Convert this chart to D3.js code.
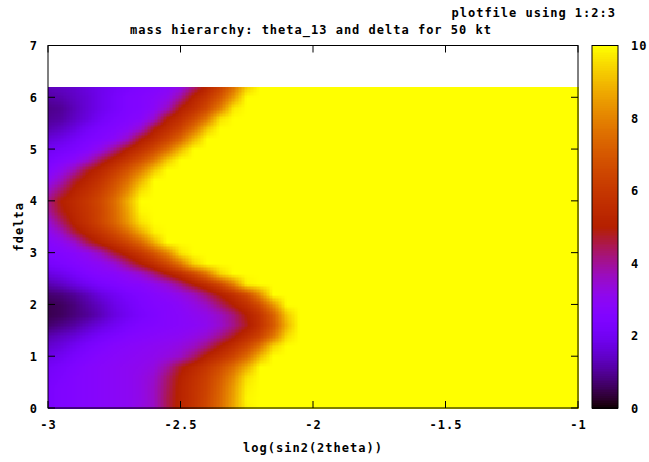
<!DOCTYPE html>
<html><head><meta charset="utf-8">
<script src="https://cdn.jsdelivr.net/npm/d3@7"></script>
<style>
body{margin:0;background:#fff}
text{font-family:"DejaVu Sans Mono",monospace;font-weight:bold;font-size:12px;letter-spacing:1px;fill:#000}
</style>
</head><body>
<svg id="chart" width="649" height="462"></svg>
<script>
// ---- data ----
const xValues = [-3.00,-2.95,-2.90,-2.85,-2.80,-2.75,-2.70,-2.65,-2.60,-2.55,-2.50,-2.45,-2.40,-2.35,-2.30,-2.25,-2.20,-2.15,-2.10,-2.05,-2.00,-1.50,-1.00];
const deltaValues = [0.0,0.2,0.4,0.6,0.8,1.0,1.2,1.4,1.6,1.8,2.0,2.2,2.4,2.6,2.8,3.0,3.2,3.4,3.6,3.8,4.0,4.2,4.4,4.6,4.8,5.0,5.2,5.4,5.6,5.8,6.0,6.2];
const zRows = [
[2.3,2.5,2.6,2.7,2.8,2.9,3.0,3.3,3.6,4.5,5.3,5.9,6.6,7.5,8.7,9.8,10,10,10,10,10,10,10],
[2.3,2.5,2.6,2.7,2.8,2.9,3.0,3.2,3.6,4.5,5.2,5.8,6.5,7.4,8.6,9.9,10,10,10,10,10,10,10],
[2.3,2.5,2.6,2.7,2.8,2.9,3.0,3.2,3.6,4.4,5.2,5.8,6.4,7.3,8.5,9.8,10,10,10,10,10,10,10],
[2.2,2.4,2.6,2.7,2.8,2.9,3.0,3.2,3.5,4.3,5.1,5.7,6.3,7.1,8.2,9.6,10,10,10,10,10,10,10],
[2.1,2.3,2.5,2.7,2.8,2.9,3.0,3.1,3.3,3.9,4.8,5.4,6.0,6.7,7.6,8.8,10,10,10,10,10,10,10],
[1.8,2.0,2.3,2.5,2.7,2.8,2.9,3.0,3.1,3.3,3.6,4.3,5.2,5.8,6.5,7.5,9.0,10,10,10,10,10,10],
[1.5,1.7,2.0,2.3,2.5,2.7,2.8,2.9,3.0,3.1,3.3,3.6,4.2,5.0,5.7,6.5,7.7,9.4,10,10,10,10,10],
[1.2,1.4,1.6,1.9,2.2,2.4,2.6,2.7,2.8,2.9,3.0,3.2,3.5,4.1,4.8,5.6,6.4,7.7,9.5,10,10,10,10],
[0.7,0.9,1.1,1.4,1.7,2.0,2.3,2.5,2.6,2.7,2.8,2.9,3.1,3.5,4.1,4.8,5.8,7.0,8.9,10,10,10,10],
[0.5,0.6,0.8,1.0,1.3,1.7,2.0,2.3,2.5,2.7,2.8,3.0,3.2,3.6,4.2,5.0,5.9,7.2,9.2,10,10,10,10],
[0.5,0.6,0.8,1.1,1.4,1.8,2.1,2.4,2.6,2.7,2.9,3.2,3.6,4.3,5.0,5.7,6.7,8.3,10,10,10,10,10],
[0.7,0.8,1.0,1.3,1.7,2.0,2.3,2.5,2.7,2.9,3.2,3.6,4.3,5.0,5.7,6.6,8.2,10,10,10,10,10,10],
[1.2,1.4,1.7,2.0,2.3,2.5,2.7,2.8,3.1,3.5,4.2,5.0,5.7,6.6,8.0,9.8,10,10,10,10,10,10,10],
[1.7,1.9,2.2,2.5,2.7,2.8,3.1,3.5,4.2,5.0,5.7,6.6,7.8,9.4,10,10,10,10,10,10,10,10,10],
[2.2,2.4,2.6,2.8,3.0,3.4,4.2,5.0,5.7,6.6,7.8,9.4,10,10,10,10,10,10,10,10,10,10,10],
[2.5,2.6,2.8,3.1,3.7,4.6,5.3,6.0,6.9,8.0,9.6,10,10,10,10,10,10,10,10,10,10,10,10],
[2.7,3.0,3.5,4.5,5.2,5.8,6.5,7.4,8.8,10,10,10,10,10,10,10,10,10,10,10,10,10,10],
[3.0,3.6,4.6,5.3,5.9,6.6,7.5,8.7,9.8,10,10,10,10,10,10,10,10,10,10,10,10,10,10],
[3.4,4.3,5.2,5.8,6.5,7.3,8.4,9.6,10,10,10,10,10,10,10,10,10,10,10,10,10,10,10],
[3.9,4.8,5.4,5.9,6.5,7.4,8.6,9.9,10,10,10,10,10,10,10,10,10,10,10,10,10,10,10],
[4.1,5.0,5.5,6.0,6.6,7.5,8.8,10,10,10,10,10,10,10,10,10,10,10,10,10,10,10,10],
[3.6,4.4,5.2,5.7,6.3,7.1,8.2,9.6,10,10,10,10,10,10,10,10,10,10,10,10,10,10,10],
[3.0,3.7,4.7,5.3,5.9,6.7,7.6,8.9,10,10,10,10,10,10,10,10,10,10,10,10,10,10,10],
[2.6,3.1,3.8,4.8,5.4,6.1,6.9,7.9,9.2,10,10,10,10,10,10,10,10,10,10,10,10,10,10],
[2.3,2.6,2.9,3.5,4.5,5.3,6.0,6.8,7.8,9.2,10,10,10,10,10,10,10,10,10,10,10,10,10],
[2.0,2.2,2.4,2.7,3.2,4.1,5.1,5.8,6.6,7.6,9.0,10,10,10,10,10,10,10,10,10,10,10,10],
[1.6,1.8,2.1,2.4,2.6,2.9,3.6,4.9,5.6,6.4,7.4,8.9,10,10,10,10,10,10,10,10,10,10,10],
[1.2,1.4,1.7,2.1,2.4,2.6,2.9,3.5,4.9,5.6,6.4,7.6,9.2,10,10,10,10,10,10,10,10,10,10],
[1.0,1.1,1.4,1.7,2.1,2.4,2.6,2.8,3.5,5.0,5.7,6.6,7.8,9.6,10,10,10,10,10,10,10,10,10],
[0.9,1.0,1.3,1.6,1.9,2.2,2.5,2.6,2.9,3.6,5.0,5.7,6.6,7.9,9.7,10,10,10,10,10,10,10,10],
[1.1,1.2,1.4,1.6,1.9,2.2,2.5,2.6,2.8,3.1,4.0,5.2,6.0,7.0,8.5,10,10,10,10,10,10,10,10],
[1.3,1.4,1.5,1.7,1.9,2.1,2.3,2.5,2.6,2.8,3.2,4.2,5.3,6.3,7.6,9.3,10,10,10,10,10,10,10]
];
const xTicks = [-3,-2.5,-2,-1.5,-1];
const yTicks = [0,1,2,3,4,5,6,7];
const cbTicks = [0,2,4,6,8,10];
const titleText = "mass hierarchy: theta_13 and delta for 50 kt";
const keyText = "plotfile using 1:2:3";
const xLabel = "log(sin2(2theta))";
const yLabel = "fdelta";

// ---- drawing ----
const svg = d3.select("#chart");
const x = d3.scaleLinear().domain([-3,-1]).range([48,578]);
const y = d3.scaleLinear().domain([0,7]).range([408,45.5]);
const palette = t => {           // gnuplot rgbformulae 7,5,15
  t = Math.max(0, Math.min(1, t));
  return d3.rgb(255*Math.sqrt(t), 255*t*t*t, 255*Math.max(0, Math.sin(2*Math.PI*t))).toString();
};
const color = d3.scaleSequential(palette).domain([0,10]);

// pm3d-like surface: each grid quad, subdivided (interpolated shading) where corners differ
const cells = [];
for (let i = 0; i < deltaValues.length-1; i++) {
  for (let j = 0; j < xValues.length-1; j++) {
    const a = zRows[i][j], b = zRows[i][j+1], c = zRows[i+1][j], d = zRows[i+1][j+1];
    const xa = xValues[j], xb = xValues[j+1], ya = deltaValues[i], yb = deltaValues[i+1];
    if (a===b && a===c && a===d) { cells.push({x0:xa,x1:xb,y0:ya,y1:yb,v:a}); continue; }
    const nx = Math.max(1, Math.ceil((x(xb)-x(xa))/1.6));
    const ny = Math.max(1, Math.ceil((y(ya)-y(yb))/1.6));
    for (let p = 0; p < nx; p++) for (let q = 0; q < ny; q++) {
      const u = (p+0.5)/nx, w = (q+0.5)/ny;
      const v = a*(1-u)*(1-w) + b*u*(1-w) + c*(1-u)*w + d*u*w;
      cells.push({x0:xa+(xb-xa)*p/nx, x1:xa+(xb-xa)*(p+1)/nx, y0:ya+(yb-ya)*q/ny, y1:ya+(yb-ya)*(q+1)/ny, v});
    }
  }
}
svg.append("g").selectAll("rect").data(cells).join("rect")
  .attr("x", d => x(d.x0))
  .attr("y", d => y(d.y1))
  .attr("width", d => x(d.x1)-x(d.x0)+0.6)
  .attr("height", d => y(d.y0)-y(d.y1)+0.6)
  .attr("fill", d => color(d.v))
  .attr("shape-rendering","crispEdges");

// plot border
const [L,R] = x.range(), [B,T] = y.range();
svg.append("rect").attr("x",L).attr("y",T).attr("width",R-L).attr("height",B-T)
  .attr("fill","none").attr("stroke","#000").attr("stroke-width",1);

const tickLen = 7;
const g = svg.append("g").attr("stroke","#000").attr("stroke-width",1);
xTicks.forEach(t => {
  g.append("line").attr("x1",x(t)).attr("x2",x(t)).attr("y1",B).attr("y2",B-tickLen);
  g.append("line").attr("x1",x(t)).attr("x2",x(t)).attr("y1",T).attr("y2",T+tickLen);
});
yTicks.forEach(t => {
  g.append("line").attr("x1",L).attr("x2",L+tickLen).attr("y1",y(t)).attr("y2",y(t));
  g.append("line").attr("x1",R).attr("x2",R-tickLen).attr("y1",y(t)).attr("y2",y(t));
});
svg.append("g").selectAll("text").data(xTicks).join("text")
  .attr("x", d => x(d)+0.5).attr("y", 429).attr("text-anchor","middle").text(d => String(d));
svg.append("g").selectAll("text").data(yTicks).join("text")
  .attr("x", 38).attr("y", d => y(d)+4.5).attr("text-anchor","end").text(d => String(d));

// axis labels and titles
svg.append("text").attr("x",(L+R)/2).attr("y",452).attr("text-anchor","middle").text(xLabel);
svg.append("text").attr("transform",`translate(23,${(T+B)/2}) rotate(-90)`).attr("text-anchor","middle").text(yLabel);
svg.append("text").attr("x",(L+R)/2-2).attr("y",34).attr("text-anchor","middle").text(titleText);
svg.append("text").attr("x",616).attr("y",17).attr("text-anchor","end").text(keyText);

// colour box
const cb = d3.scaleLinear().domain([0,10]).range([408,45.5]);
const cbX0 = 592, cbX1 = 618;
const steps = d3.range(0, 10, 0.05);
svg.append("g").selectAll("rect").data(steps).join("rect")
  .attr("x", cbX0).attr("width", cbX1-cbX0)
  .attr("y", d => cb(d+0.05)).attr("height", d => cb(d)-cb(d+0.05)+0.6)
  .attr("fill", d => color(d+0.025)).attr("shape-rendering","crispEdges");
svg.append("rect").attr("x",cbX0).attr("y",cb(10)).attr("width",cbX1-cbX0).attr("height",cb(0)-cb(10))
  .attr("fill","none").attr("stroke","#000");
cbTicks.forEach(t => {
  g.append("line").attr("x1",cbX0).attr("x2",cbX0+4).attr("y1",cb(t)).attr("y2",cb(t));
  g.append("line").attr("x1",cbX1).attr("x2",cbX1-4).attr("y1",cb(t)).attr("y2",cb(t));
});
svg.append("g").selectAll("text").data(cbTicks).join("text")
  .attr("x", 631).attr("y", d => cb(d)+4.5).text(d => String(d));
</script>
</body></html>
